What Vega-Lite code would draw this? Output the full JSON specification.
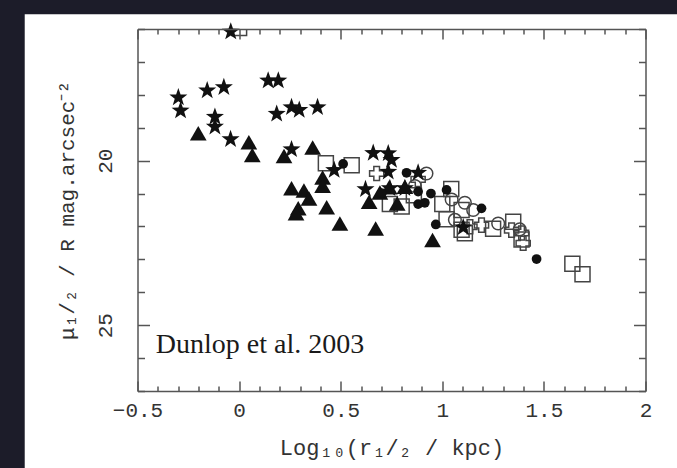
{
  "$schema": "https://vega.github.io/schema/vega-lite/v6.json",
  "width": 508,
  "height": 362,
  "autosize": {"type": "none"},
  "padding": {"left": 137.5, "top": 29, "right": 31.5, "bottom": 77},
  "background": "#1c1c29",
  "config": {
    "view": {"stroke": null},
    "axis": {"grid": false}
  },
  "datasets": {
    "filled": [
      {"x": -0.041, "y": 16.08, "type": "star"},
      {"x": -0.299, "y": 18.08, "type": "star"},
      {"x": -0.288, "y": 18.48, "type": "star"},
      {"x": -0.157, "y": 17.87, "type": "star"},
      {"x": -0.075, "y": 17.77, "type": "star"},
      {"x": 0.143, "y": 17.57, "type": "star"},
      {"x": 0.193, "y": 17.57, "type": "star"},
      {"x": -0.119, "y": 18.67, "type": "star"},
      {"x": -0.119, "y": 18.97, "type": "star"},
      {"x": -0.042, "y": 19.35, "type": "star"},
      {"x": 0.185, "y": 18.58, "type": "star"},
      {"x": 0.258, "y": 18.38, "type": "star"},
      {"x": 0.296, "y": 18.46, "type": "star"},
      {"x": 0.386, "y": 18.38, "type": "star"},
      {"x": 0.258, "y": 19.66, "type": "star"},
      {"x": 0.468, "y": 20.29, "type": "star"},
      {"x": 0.66, "y": 19.77, "type": "star"},
      {"x": 0.734, "y": 19.78, "type": "star"},
      {"x": 0.75, "y": 19.98, "type": "star"},
      {"x": 0.734, "y": 20.34, "type": "star"},
      {"x": 0.622, "y": 20.87, "type": "star"},
      {"x": 0.742, "y": 20.84, "type": "star"},
      {"x": 0.816, "y": 20.84, "type": "star"},
      {"x": 0.881, "y": 20.37, "type": "star"},
      {"x": 1.103, "y": 22.03, "type": "star"},
      {"x": -0.201, "y": 19.17, "type": "triangle"},
      {"x": 0.048, "y": 19.44, "type": "triangle"},
      {"x": 0.065, "y": 19.83, "type": "triangle"},
      {"x": 0.221, "y": 19.86, "type": "triangle"},
      {"x": 0.362, "y": 19.6, "type": "triangle"},
      {"x": 0.411, "y": 20.51, "type": "triangle"},
      {"x": 0.411, "y": 20.76, "type": "triangle"},
      {"x": 0.258, "y": 20.84, "type": "triangle"},
      {"x": 0.319, "y": 20.91, "type": "triangle"},
      {"x": 0.344, "y": 21.15, "type": "triangle"},
      {"x": 0.291, "y": 21.45, "type": "triangle"},
      {"x": 0.28, "y": 21.6, "type": "triangle"},
      {"x": 0.431, "y": 21.42, "type": "triangle"},
      {"x": 0.496, "y": 21.91, "type": "triangle"},
      {"x": 0.64, "y": 21.25, "type": "triangle"},
      {"x": 0.672, "y": 22.06, "type": "triangle"},
      {"x": 0.693, "y": 20.97, "type": "triangle"},
      {"x": 0.739, "y": 20.81, "type": "triangle"},
      {"x": 0.778, "y": 21.3, "type": "triangle"},
      {"x": 0.816, "y": 20.79, "type": "triangle"},
      {"x": 0.952, "y": 22.41, "type": "triangle"},
      {"x": 0.512, "y": 20.1, "type": "dot"},
      {"x": 0.824, "y": 20.37, "type": "dot"},
      {"x": 0.701, "y": 20.99, "type": "dot"},
      {"x": 0.881, "y": 20.94, "type": "dot"},
      {"x": 0.944, "y": 21.0, "type": "dot"},
      {"x": 1.021, "y": 20.89, "type": "dot"},
      {"x": 0.881, "y": 21.32, "type": "dot"},
      {"x": 0.914, "y": 21.28, "type": "dot"},
      {"x": 1.193, "y": 21.45, "type": "dot"},
      {"x": 0.968, "y": 21.94, "type": "dot"},
      {"x": 1.464, "y": 22.99, "type": "dot"}
    ],
    "open": [
      {"x": 0.0, "y": 15.97, "type": "square"},
      {"x": 0.427, "y": 20.08, "type": "square"},
      {"x": 0.554, "y": 20.14, "type": "square"},
      {"x": 0.742, "y": 21.32, "type": "square"},
      {"x": 0.8, "y": 21.39, "type": "square"},
      {"x": 0.86, "y": 21.05, "type": "square"},
      {"x": 1.044, "y": 20.86, "type": "square"},
      {"x": 1.0, "y": 21.32, "type": "square"},
      {"x": 1.095, "y": 21.5, "type": "square"},
      {"x": 1.021, "y": 21.78, "type": "square"},
      {"x": 1.095, "y": 22.1, "type": "square"},
      {"x": 1.111, "y": 22.21, "type": "square"},
      {"x": 1.25, "y": 22.07, "type": "square"},
      {"x": 1.349, "y": 21.86, "type": "square"},
      {"x": 1.39, "y": 22.4, "type": "square"},
      {"x": 1.64, "y": 23.13, "type": "square"},
      {"x": 1.69, "y": 23.45, "type": "square"},
      {"x": 0.922, "y": 20.39, "type": "ring"},
      {"x": 0.865, "y": 20.77, "type": "ring"},
      {"x": 1.046, "y": 21.18, "type": "ring"},
      {"x": 1.111, "y": 21.28, "type": "ring"},
      {"x": 1.152, "y": 21.5, "type": "ring"},
      {"x": 1.062, "y": 21.8, "type": "ring"},
      {"x": 1.275, "y": 21.91, "type": "ring"},
      {"x": 1.381, "y": 22.09, "type": "ring"},
      {"x": 0.677, "y": 20.39, "type": "plus"},
      {"x": 0.881, "y": 20.57, "type": "plus"},
      {"x": 1.136, "y": 22.01, "type": "plus"},
      {"x": 1.193, "y": 21.96, "type": "plus"},
      {"x": 1.341, "y": 22.11, "type": "plus"},
      {"x": 1.39, "y": 22.2, "type": "plus"},
      {"x": 1.398, "y": 22.51, "type": "plus"}
    ]
  },
  "layer": [
    {
      "data": {"values": [{}]},
      "mark": {"type": "rect", "color": "#ffffff", "clip": false},
      "encoding": {
        "x": {"datum": -1.055, "type": "quantitative", "scale": {"domain": [-0.5, 2], "nice": false, "zero": false}, "axis": null},
        "x2": {"datum": 2.3},
        "y": {"datum": 15.55, "type": "quantitative", "scale": {"domain": [16, 27], "nice": false, "zero": false, "reverse": true}, "axis": null},
        "y2": {"datum": 30}
      }
    },
    {
      "data": {"name": "open"},
      "mark": {"type": "point", "filled": false, "color": "#444444", "strokeWidth": 1.5, "opacity": 1, "clip": true},
      "encoding": {
        "x": {
          "field": "x", "type": "quantitative",
          "scale": {"domain": [-0.5, 2], "nice": false, "zero": false},
          "axis": {
            "orient": "top",
            "zindex": 1,
            "values": [-0.5, -0.4, -0.3, -0.2, -0.1, 0, 0.1, 0.2, 0.3, 0.4, 0.5, 0.6, 0.7, 0.8, 0.9, 1, 1.1, 1.2, 1.3, 1.4, 1.5, 1.6, 1.7, 1.8, 1.9, 2],
            "tickSize": {"condition": {"test": "abs(datum.value*2 - round(datum.value*2)) < 0.001", "value": -10}, "value": -5},
            "labels": false,
            "title": null,
            "domainColor": "#555555",
            "domainWidth": 1.5,
            "tickColor": "#555555",
            "tickWidth": 1.5
          }
        },
        "y": {
          "field": "y", "type": "quantitative",
          "scale": {"domain": [16, 27], "nice": false, "zero": false, "reverse": true},
          "axis": {
            "orient": "right",
            "zindex": 1,
            "values": [16, 17, 18, 19, 20, 21, 22, 23, 24, 25, 26, 27],
            "tickSize": {"condition": {"test": "datum.value == 20 || datum.value == 25", "value": -12}, "value": -7},
            "labels": false,
            "title": null,
            "domainColor": "#555555",
            "domainWidth": 1.5,
            "tickColor": "#555555",
            "tickWidth": 1.5
          }
        },
        "shape": {
          "field": "type", "type": "nominal", "legend": null,
          "scale": {
            "type": "ordinal",
            "domain": ["star", "triangle", "dot", "square", "ring", "plus"],
            "range": ["M0,-1L0.235,-0.324L0.951,-0.309L0.38,0.124L0.588,0.809L0,0.4L-0.588,0.809L-0.38,0.124L-0.951,-0.309L-0.235,-0.324Z", "triangle-up", "circle", "square", "circle", "cross"]
          }
        },
        "size": {
          "field": "type", "type": "nominal", "legend": null,
          "scale": {
            "type": "ordinal",
            "domain": ["star", "triangle", "dot", "square", "ring", "plus"],
            "range": [360, 280, 95, 225, 160, 200]
          }
        }
      }
    },
    {
      "data": {"name": "filled"},
      "mark": {"type": "point", "filled": true, "color": "#111111", "opacity": 1},
      "encoding": {
        "x": {
          "field": "x", "type": "quantitative",
          "scale": {"domain": [-0.5, 2], "nice": false, "zero": false},
          "axis": {
            "orient": "bottom",
            "zindex": 1,
            "values": [-0.5, -0.4, -0.3, -0.2, -0.1, 0, 0.1, 0.2, 0.3, 0.4, 0.5, 0.6, 0.7, 0.8, 0.9, 1, 1.1, 1.2, 1.3, 1.4, 1.5, 1.6, 1.7, 1.8, 1.9, 2],
            "tickSize": {"condition": {"test": "abs(datum.value*2 - round(datum.value*2)) < 0.001", "value": -10}, "value": -5},
            "labelExpr": "abs(datum.value*2 - round(datum.value*2)) < 0.001 ? format(datum.value, '~g') : ''",
            "labelOverlap": false,
            "labelFlush": false,
            "labelPadding": 18,
            "labelFont": "Liberation Mono",
            "labelFontSize": 21,
            "labelColor": "#333333",
            "domainColor": "#555555",
            "domainWidth": 1.5,
            "tickColor": "#555555",
            "tickWidth": 1.5,
            "title": "Log₁₀(r₁/₂ / kpc)",
            "titleFont": "Liberation Mono",
            "titleFontSize": 22,
            "titleFontWeight": "normal",
            "titleColor": "#333333",
            "titlePadding": 12
          }
        },
        "y": {
          "field": "y", "type": "quantitative",
          "scale": {"domain": [16, 27], "nice": false, "zero": false, "reverse": true},
          "axis": {
            "orient": "left",
            "zindex": 1,
            "values": [16, 17, 18, 19, 20, 21, 22, 23, 24, 25, 26, 27],
            "tickSize": {"condition": {"test": "datum.value == 20 || datum.value == 25", "value": -12}, "value": -7},
            "labelExpr": "(datum.value == 20 || datum.value == 25) ? datum.label : ''",
            "labelOverlap": false,
            "labelFlush": false,
            "labelAngle": -90,
            "labelAlign": "center",
            "labelBaseline": "bottom",
            "labelPadding": 34,
            "labelFont": "Liberation Mono",
            "labelFontSize": 21,
            "labelColor": "#333333",
            "domainColor": "#555555",
            "domainWidth": 1.5,
            "tickColor": "#555555",
            "tickWidth": 1.5,
            "title": "μ₁/₂ / R mag.arcsec⁻²",
            "titleFont": "Liberation Mono",
            "titleFontSize": 21,
            "titleFontWeight": "normal",
            "titleColor": "#333333",
            "titlePadding": 12
          }
        },
        "shape": {
          "field": "type", "type": "nominal", "legend": null,
          "scale": {
            "type": "ordinal",
            "domain": ["star", "triangle", "dot", "square", "ring", "plus"],
            "range": ["M0,-1L0.235,-0.324L0.951,-0.309L0.38,0.124L0.588,0.809L0,0.4L-0.588,0.809L-0.38,0.124L-0.951,-0.309L-0.235,-0.324Z", "triangle-up", "circle", "square", "circle", "cross"]
          }
        },
        "size": {
          "field": "type", "type": "nominal", "legend": null,
          "scale": {
            "type": "ordinal",
            "domain": ["star", "triangle", "dot", "square", "ring", "plus"],
            "range": [360, 280, 95, 225, 160, 200]
          }
        }
      }
    },
    {
      "data": {"values": [{}]},
      "mark": {"type": "text", "text": "Dunlop et al. 2003", "align": "left", "baseline": "middle", "font": "Liberation Serif", "fontSize": 28, "color": "#1a1a1a"},
      "encoding": {
        "x": {"datum": -0.41, "type": "quantitative", "axis": null},
        "y": {"datum": 25.6, "type": "quantitative", "axis": null}
      }
    }
  ],
  "resolve": {"axis": {"x": "independent", "y": "independent"}}
}
